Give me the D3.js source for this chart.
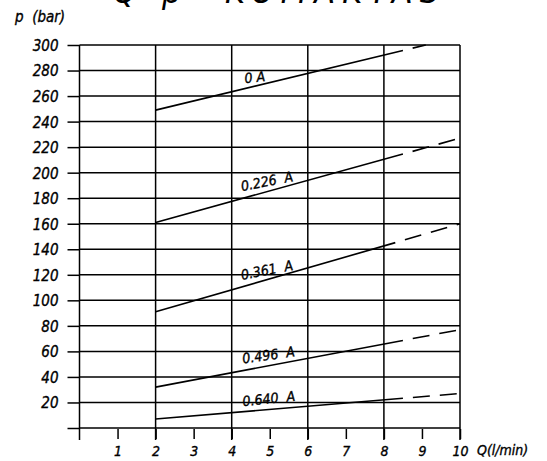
<!DOCTYPE html>
<html><head><meta charset="utf-8">
<script src="https://cdn.jsdelivr.net/npm/d3@7"></script>
<style>
body{margin:0;background:#fff;}
svg{display:block;}
svg text{font-family:"DejaVu Sans Condensed","DejaVu Sans",sans-serif;font-stretch:condensed;font-style:italic;fill:#000;stroke:#000;stroke-width:0.35px;}
</style></head>
<body>
<script>
// ---- data ----
const titleParts = ["Q","-","p","KUMAKTAS"];
const yLabel = "p  (bar)";
const xLabel = "Q(l/min)";
const xTicks = [1,2,3,4,5,6,7,8,9,10];
const xGrid = [0,2,4,6,8,10];
const yTicks = [0,20,40,60,80,100,120,140,160,180,200,220,240,260,280,300];
const seriesNames = ["0 A","0.226  A","0.361  A","0.496  A","0.640  A"];
// solid part of each curve [Q, p]
const solidParts = [
  [[2,249],[8.5,295.7]],
  [[2,161],[8.5,214.6]],
  [[2,91],[8.3,145.2]],
  [[2,32],[8.5,68.6]],
  [[2,7],[8.5,23.3]]
];
// dashed continuation [Q, p]
const dashParts = [
  [[8.5,295.7],[9.1,300]],
  [[8.5,214.6],[10,227]],
  [[8.3,145.2],[10,160]],
  [[8.5,68.6],[10,77]],
  [[8.5,23.3],[10,27]]
];
// label anchors [Q, p, rotation]
const labelPos = [
  [4.35,270,-6],
  [4.27,185.5,-11],
  [4.27,116,-11],
  [4.3,50.5,-8],
  [4.3,17,-6]
];

const W=547,H=461;
const svg=d3.select("body").append("svg").attr("width",W).attr("height",H);
const x=d3.scaleLinear().domain([0,10]).range([79.5,460]);
const y=d3.scaleLinear().domain([0,300]).range([428,45]);

// title (mostly cut off at top, as in the reference)
const titleX=[113,140,162,225];
svg.append("g").selectAll("text").data(titleParts).join("text")
  .attr("x",(d,i)=>titleX[i]).attr("y",3)
  .style("font-size","34px").style("font-weight","200").style("font-stretch","normal")
  .style("stroke-width","0px")
  .style("letter-spacing",(d,i)=>i===3?"7px":"0px").text(d=>d);

// horizontal grid lines
svg.append("g").selectAll("line").data(yTicks).join("line")
  .attr("x1",x(0)).attr("x2",x(10)).attr("y1",d=>y(d)).attr("y2",d=>y(d))
  .attr("stroke","#000").attr("stroke-width",1.5);
// vertical grid lines
svg.append("g").selectAll("line").data(xGrid).join("line")
  .attr("x1",d=>x(d)).attr("x2",d=>x(d)).attr("y1",y(300)).attr("y2",y(0)+12)
  .attr("stroke","#000").attr("stroke-width",1.5);

// y axis
const yAxis=d3.axisLeft(y).tickValues(yTicks).tickSize(12).tickPadding(9)
  .tickFormat(d=>d===0?"":d);
const gy=svg.append("g").attr("transform",`translate(${x(0)},0)`).call(yAxis);
gy.attr("font-family",null).attr("font-size",null);
gy.select(".domain").remove();
gy.selectAll(".tick line").attr("stroke","#000").attr("stroke-width",1.5);
gy.selectAll(".tick text").style("font-size","15px").attr("dy","0.36em");

// x axis
const xAxis=d3.axisBottom(x).tickValues(xTicks).tickSize(10).tickPadding(7);
const gx=svg.append("g").attr("transform",`translate(0,${y(0)+1})`).call(xAxis);
gx.attr("font-family",null).attr("font-size",null);
gx.select(".domain").remove();
gx.selectAll(".tick line").attr("stroke","#000").attr("stroke-width",1.5);
gx.selectAll(".tick text").style("font-size","14px");

// axis titles
svg.append("text").attr("x",15).attr("y",22).style("font-size","15px").text(yLabel.replace(/ /g,"\u00A0"));
svg.append("text").attr("x",x(10)+17).attr("y",455).style("font-size","14px").text(xLabel);

// curves
const line=d3.line().x(d=>x(d[0])).y(d=>y(d[1]));
svg.append("g").selectAll("path").data(solidParts).join("path")
  .attr("d",line).attr("fill","none").attr("stroke","#000").attr("stroke-width",1.6);
svg.append("g").selectAll("path").data(dashParts).join("path")
  .attr("d",line).attr("fill","none").attr("stroke","#000").attr("stroke-width",1.6)
  .attr("stroke-dasharray","17 10").attr("stroke-dashoffset",17);

// curve labels
svg.append("g").selectAll("text").data(seriesNames).join("text")
  .attr("transform",(d,i)=>`translate(${x(labelPos[i][0])},${y(labelPos[i][1])}) rotate(${labelPos[i][2]})`)
  .style("font-size","14px").text(d=>d.replace(/ /g,"\u00A0"));
</script>
</body></html>
